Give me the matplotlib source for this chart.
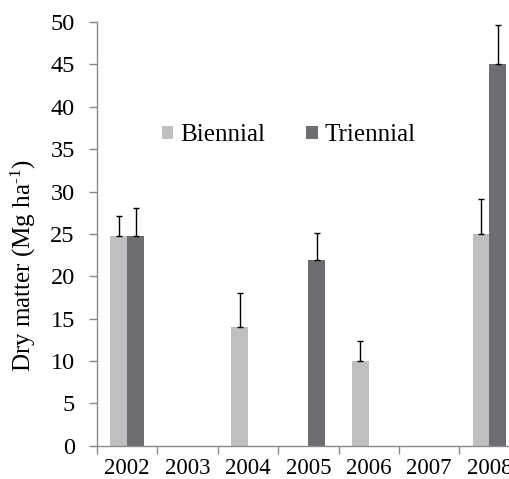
import matplotlib
matplotlib.use("Agg")
import matplotlib.pyplot as plt
import numpy as np

years = ["2002", "2003", "2004", "2005", "2006", "2007", "2008"]
biennial = [24.7, np.nan, 14.0, np.nan, 10.0, np.nan, 25.0]
biennial_err = [2.4, np.nan, 4.05, np.nan, 2.3, np.nan, 4.1]
triennial = [24.7, np.nan, np.nan, 21.9, np.nan, np.nan, 45.0]
triennial_err = [3.3, np.nan, np.nan, 3.2, np.nan, np.nan, 4.6]

plt.rcParams['font.family'] = ['Liberation Serif', 'DejaVu Serif']
plt.rcParams['mathtext.fontset'] = 'custom'
plt.rcParams['mathtext.rm'] = 'Liberation Serif'
plt.rcParams['mathtext.it'] = 'Liberation Serif:italic'
plt.rcParams['mathtext.bf'] = 'Liberation Serif:bold'

fig = plt.figure(figsize=(5.09, 4.79), dpi=100)
ax = fig.add_axes([0.1906, 0.0695, 1.021 - 0.1906, 0.954 - 0.0695])

x = np.arange(len(years))
w = 0.28
c_bi = '#BEBFC1'
c_tri = '#6D6E71'
ax.bar(x - w / 2, biennial, w, color=c_bi, label='Biennial', zorder=2)
ax.bar(x + w / 2, triennial, w, color=c_tri, label='Triennial', zorder=2)
ax.errorbar(x - w / 2, biennial, yerr=[np.zeros(len(x)), biennial_err],
            fmt='none', ecolor='black', elinewidth=1.0, capsize=2.5, capthick=1.0, zorder=3)
ax.errorbar(x + w / 2, triennial, yerr=[np.zeros(len(x)), triennial_err],
            fmt='none', ecolor='black', elinewidth=1.0, capsize=2.5, capthick=1.0, zorder=3)

ax.set_xlim(-0.5, len(years) - 0.5)
ax.set_ylim(0, 50)
ax.set_yticks(np.arange(0, 51, 5))
ax.tick_params(axis='y', direction='out', length=6, color='#8a8a8a', width=1, labelsize=17.5, pad=10)

ax.set_xticks(np.arange(-0.5, len(years), 1.0))
ax.set_xticklabels([])
ax.tick_params(axis='x', which='major', direction='out', length=6, color='#8a8a8a', width=1)
ax.set_xticks(x, minor=True)
ax.set_xticklabels(years, minor=True)
ax.tick_params(axis='x', which='minor', length=0, labelsize=16.5, pad=8.5)

for s in ['top', 'right']:
    ax.spines[s].set_visible(False)
for s in ['left', 'bottom']:
    ax.spines[s].set_color('#8a8a8a')
    ax.spines[s].set_linewidth(1)

ax.set_ylabel('Dry matter (Mg ha$^{\\text{-1}}$)', fontsize=18)
ax.yaxis.set_label_coords(-0.139, 0.424)

ax.legend(loc='center left', bbox_to_anchor=(0.154, 0.733), ncol=2, frameon=False,
          fontsize=18, handlelength=0.45, handleheight=0.45, handletextpad=0.28,
          columnspacing=1.64, borderpad=0, borderaxespad=0)

fig.savefig('out.png', dpi=100)
